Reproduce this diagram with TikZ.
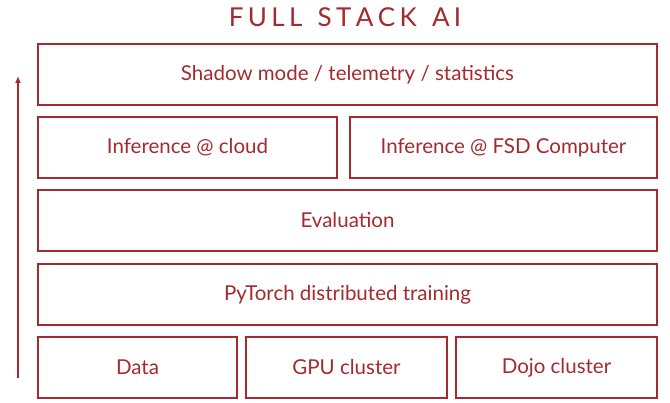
\documentclass[tikz,border=0pt]{standalone}
\usepackage{fontspec}
\usetikzlibrary{arrows.meta}
\setmainfont{Lato}
\definecolor{dr}{HTML}{A32A2E}
\begin{document}
\begin{tikzpicture}[x=1pt,y=-1pt,
  box/.style={draw=dr,line width=1.3pt,text=dr,font=\fontsize{20.5}{24}\selectfont,inner sep=0pt}]
\useasboundingbox (0,0) rectangle (670,403);
\node[text=dr,font=\fontsize{26}{28}\selectfont] (title) at (345,17) {F\,U\,L\,L\,\ \,S\,T\,A\,C\,K\,\ \,A\,I};
\newcommand{\bx}[6]{\draw[dr,line width=1.3pt] (#2,#3) rectangle (#4,#5) node[box,draw=none,midway] (#1) {#6};}
\bx{shadow}{38}{44}{657}{105}{Shadow mode / telemetry / statistics}
\bx{cloud}{38}{117}{337}{178}{Inference @ cloud}
\bx{fsd}{350}{117}{657}{178}{Inference @ FSD Computer}
\bx{eval}{38}{190}{657}{251}{Evaluation}
\bx{torch}{38}{264}{657}{325}{PyTorch distributed training}
\bx{data}{38}{337}{237}{398}{Data}
\bx{gpu}{246}{337}{447}{398}{GPU cluster}
\bx{dojo}{456}{337}{657}{398}{Dojo cluster}
\coordinate (a0) at (18,378);
\coordinate (a1) at (18,76);
\draw[dr,line width=1.3pt,-{Latex[length=7pt,width=6pt]}] (a0) -- (a1);
\end{tikzpicture}
\end{document}
